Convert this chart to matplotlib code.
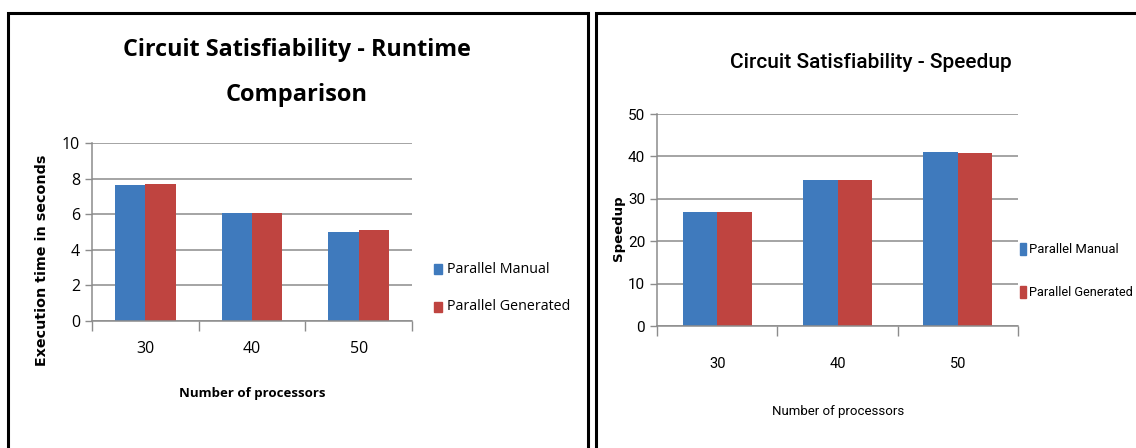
import matplotlib
matplotlib.use("Agg")
import matplotlib.pyplot as plt
from matplotlib.patches import Rectangle
import numpy as np

# ---- data ----
processors = ["30", "40", "50"]
series_names = ["Parallel Manual", "Parallel Generated"]
runtime_manual = [7.63, 6.04, 5.02]
runtime_generated = [7.71, 6.05, 5.11]
speedup_manual = [27.0, 34.35, 40.96]
speedup_generated = [27.0, 34.35, 40.7]

BLUE = "#3f7abd"
RED = "#bf4440"
GRID = "#8c8c8c"

W, H = 1136, 448
fig = plt.figure(figsize=(W / 100, H / 100), dpi=100)
fig.patch.set_facecolor("white")
renderer = fig.canvas.get_renderer()

OPEN = ["Open Sans", "DejaVu Sans"]
NARROW = ["Roboto", "DejaVu Sans"]
WIDE = ["DejaVu Sans"]


def fx(x):
    return x / W


def fy(y):
    return 1 - y / H


def add_ax(x0, y0, x1, y1):
    return fig.add_axes([fx(x0), fy(y1), fx(x1 - x0), (y1 - y0) / H])


def fitted_text(x, y, s, span, horizontal=True, **kw):
    """Place text and scale its size so that it spans `span` pixels."""
    t = fig.text(fx(x), fy(y), s, **kw)
    bb = t.get_window_extent(renderer)
    cur = bb.width if horizontal else bb.height
    t.set_fontsize(t.get_fontsize() * span / cur)
    return t


# panel frames
for (x0, x1) in [(8, 588), (596, 1140)]:
    fig.patches.append(Rectangle((fx(x0), fy(460)), fx(x1 - x0), (460 - 13) / H,
                                 transform=fig.transFigure, fill=False,
                                 edgecolor="black", linewidth=2.2))


def draw_bars(ax, a, b, ymax, step, tick_fs, fam):
    n = len(processors)
    x = np.arange(n)
    w = 1 / 3.5
    ax.bar(x - w / 2, a, w, color=BLUE, zorder=3)
    ax.bar(x + w / 2, b, w, color=RED, zorder=3)
    ax.set_xlim(-0.5, n - 0.5)
    ax.set_ylim(0, ymax)
    ax.set_yticks(np.arange(0, ymax + step / 2, step))
    ax.yaxis.grid(True, color=GRID, linewidth=1.1, zorder=0)
    ax.set_xticks(np.arange(-0.5, n, 1.0))
    ax.set_xticklabels([])
    ax.tick_params(axis="x", length=7, color=GRID, width=1.0)
    ax.tick_params(axis="y", length=5, color=GRID, width=1.0, labelsize=tick_fs)
    for s in ["top", "right"]:
        ax.spines[s].set_visible(False)
    for s in ["left", "bottom"]:
        ax.spines[s].set_color(GRID)
        ax.spines[s].set_linewidth(1.1)
    ax.spines["bottom"].set_zorder(4)
    for lab in ax.get_yticklabels():
        lab.set_family(fam)
    return x


# ---- left panel: runtime ----
axl = add_ax(92, 143, 412, 321)
xl = draw_bars(axl, runtime_manual, runtime_generated, 10, 2, 11.5, OPEN)
for xi, lab in zip(xl, processors):
    axl.text(xi, -1.6, lab, ha="center", va="center", fontsize=11.5, family=OPEN)
fitted_text(297, 50, "Circuit Satisfiability - Runtime", 350, ha="center", va="center",
            fontsize=17, fontweight="bold", family=OPEN)
fig.text(fx(297), fy(95), "Comparison", ha="center", va="center",
         fontsize=17, fontweight="bold", family=OPEN)
fitted_text(42, 260, "Execution time in seconds", 212, horizontal=False, rotation=90,
            ha="center", va="center", fontsize=9.5, fontweight="bold", family=WIDE)
fitted_text(252, 393, "Number of processors", 147, ha="center", va="center",
            fontsize=10, fontweight="bold", family=OPEN)
for name, col, yy in [(series_names[0], BLUE, 269), (series_names[1], RED, 307)]:
    fig.patches.append(Rectangle((fx(434), fy(yy + 5)), fx(8), 10 / H,
                                 transform=fig.transFigure, color=col))
    fig.text(fx(447), fy(yy), name, ha="left", va="center", fontsize=10.3, family=OPEN)

# ---- right panel: speedup ----
axr = add_ax(657, 114, 1018, 326)
xr = draw_bars(axr, speedup_manual, speedup_generated, 50, 10, 11, NARROW)
for xi, lab in zip(xr, processors):
    axr.text(xi, -9.0, lab, ha="center", va="center", fontsize=10.5, family=NARROW)
fig.text(fx(871), fy(62), "Circuit Satisfiability - Speedup", ha="center", va="center",
         fontsize=15, fontweight="medium", family=NARROW)
fig.text(fx(618), fy(228), "Speedup", rotation=90, ha="center", va="center",
         fontsize=9.5, fontweight="bold", family=WIDE)
fig.text(fx(838), fy(411), "Number of processors", ha="center", va="center",
         fontsize=9.5, family=NARROW)
for name, col, yy in [(series_names[0], BLUE, 249), (series_names[1], RED, 292)]:
    fig.patches.append(Rectangle((fx(1020), fy(yy + 6)), fx(6), 12 / H,
                                 transform=fig.transFigure, color=col))
    fitted_text(1029, yy, name, 104 if col == RED else 89, ha="left", va="center",
                fontsize=10, family=NARROW)

fig.savefig("out.png", dpi=100, facecolor="white")
